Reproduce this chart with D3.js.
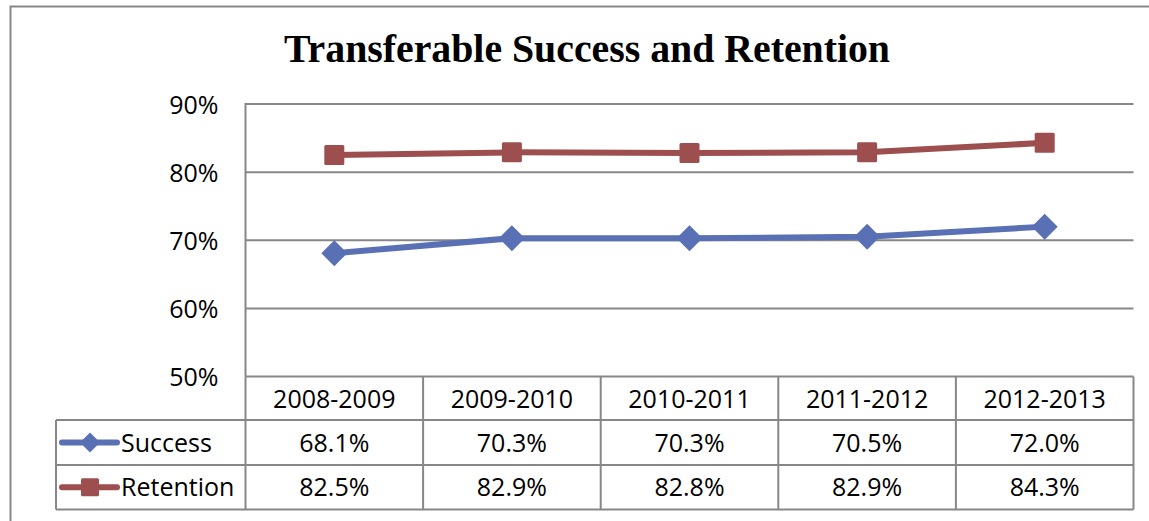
<!DOCTYPE html>
<html>
<head>
<meta charset="utf-8">
<script src="https://cdn.jsdelivr.net/npm/d3@7"></script>
<style>
  body { margin: 0; background: #fff; }
  text { font-family: "Open Sans", sans-serif; fill: #000; }
</style>
</head>
<body>
<div id="chart"></div>
<script>
const years = ["2008-2009", "2009-2010", "2010-2011", "2011-2012", "2012-2013"]
const success = [0.681, 0.703, 0.703, 0.705, 0.720]
const retention = [0.825, 0.829, 0.828, 0.829, 0.843]
const yTicks = [0.5, 0.6, 0.7, 0.8, 0.9]
const seriesNames = ["Success", "Retention"]

const width = 1149
const height = 521
const plot = { left: 245.5, right: 1133.5, top: 104, bottom: 376.5 }
const rowH = [43.5, 45, 44.5]
const legendLeft = 56
const grey = "#878787"
const colours = ["#5a70b5", "#9d4e4e"]

const svg = d3.select("#chart").append("svg").attr("width", width).attr("height", height)

// outer chart border (runs off the window on right and bottom)
svg.append("rect")
    .attr("x", 10.5).attr("y", 6.5)
    .attr("width", 1160).attr("height", 540)
    .attr("fill", "none").attr("stroke", grey).attr("stroke-width", 2)

svg.append("text")
    .attr("x", 587).attr("y", 62)
    .attr("text-anchor", "middle")
    .attr("textLength", 606).attr("lengthAdjust", "spacingAndGlyphs")
    .style("font-family", "'Liberation Serif', serif")
    .style("font-weight", "bold")
    .style("font-size", "40px")
    .text("Transferable Success and Retention")

const x = d3.scaleBand().domain(years).range([plot.left, plot.right]).padding(0)
const y = d3.scaleLinear().domain([0.5, 0.9]).range([plot.bottom, plot.top])

// gridlines
svg.append("g").selectAll("line").data(yTicks).enter().append("line")
    .attr("x1", plot.left).attr("x2", plot.right)
    .attr("y1", d => y(d)).attr("y2", d => y(d))
    .attr("stroke", grey).attr("stroke-width", 2)

const yAxis = d3.axisLeft(y).tickValues(yTicks).tickSize(0).tickPadding(27).tickFormat(d3.format(".0%"))
const yAxisGroup = svg.append("g").attr("transform", `translate(${plot.left}, 0)`).call(yAxis)
yAxisGroup.select(".domain").remove()
yAxisGroup.selectAll("text").style("font-family", "'Open Sans', sans-serif").style("font-size", "25px").attr("dy", "0.36em")

// plot left edge
svg.append("line")
    .attr("x1", plot.left).attr("x2", plot.left)
    .attr("y1", plot.top - 1).attr("y2", plot.bottom)
    .attr("stroke", grey).attr("stroke-width", 2)

// data table
const rowTop = [plot.bottom, plot.bottom + rowH[0], plot.bottom + rowH[0] + rowH[1]]
const tableBottom = rowTop[2] + rowH[2]
const table = svg.append("g")

// horizontal rules
table.append("line").attr("x1", legendLeft).attr("x2", plot.right).attr("y1", rowTop[1]).attr("y2", rowTop[1])
table.append("line").attr("x1", legendLeft).attr("x2", plot.right).attr("y1", rowTop[2]).attr("y2", rowTop[2])
table.append("line").attr("x1", legendLeft).attr("x2", plot.right).attr("y1", tableBottom).attr("y2", tableBottom)
// vertical rules
table.append("line").attr("x1", legendLeft).attr("x2", legendLeft).attr("y1", rowTop[1]).attr("y2", tableBottom)
table.selectAll(".vrule").data(years).enter().append("line")
    .attr("class", "vrule")
    .attr("x1", d => x(d)).attr("x2", d => x(d))
    .attr("y1", plot.bottom).attr("y2", tableBottom)
table.append("line").attr("x1", plot.right).attr("x2", plot.right).attr("y1", plot.bottom).attr("y2", tableBottom)
table.selectAll("line").attr("stroke", grey).attr("stroke-width", 2)

const cellFont = "25px"
table.selectAll(".head").data(years).enter().append("text")
    .attr("x", d => x(d) + x.bandwidth() / 2)
    .attr("y", rowTop[0] + rowH[0] / 2 + 1)
    .attr("dy", "0.36em").attr("text-anchor", "middle")
    .style("font-size", cellFont)
    .text(d => d)

const fmt = d3.format(".1%")
;[success, retention].forEach((vals, r) => {
    table.selectAll(".row" + r).data(vals).enter().append("text")
        .attr("x", (d, i) => x(years[i]) + x.bandwidth() / 2)
        .attr("y", rowTop[r + 1] + rowH[r + 1] / 2)
        .attr("dy", "0.36em").attr("text-anchor", "middle")
        .style("font-size", cellFont)
        .text(d => fmt(d))
})

// markers
const diamond = (g, cx, cy, s) => g.append("path")
    .attr("d", `M${cx},${cy - s}L${cx + s},${cy}L${cx},${cy + s}L${cx - s},${cy}Z`)
    .attr("fill", colours[0])
const square = (g, cx, cy, s) => g.append("rect")
    .attr("x", cx - s).attr("y", cy - s).attr("width", 2 * s).attr("height", 2 * s)
    .attr("rx", 1.5).attr("fill", colours[1])

// legend keys
seriesNames.forEach((name, r) => {
    const cy = rowTop[r + 1] + rowH[r + 1] / 2
    const lg = table.append("g")
    lg.append("line").attr("x1", 62).attr("x2", 117).attr("y1", cy).attr("y2", cy)
        .attr("stroke", colours[r]).attr("stroke-width", 6).attr("stroke-linecap", "round")
    if (r === 0) diamond(lg, 90, cy, 10)
    else square(lg, 90, cy, 9)
    lg.append("text").attr("x", 121).attr("y", cy).attr("dy", "0.36em")
        .style("font-size", cellFont).text(name)
})

// series
const line = d3.line().x((d, i) => x(years[i]) + x.bandwidth() / 2).y(d => y(d))
const lines = svg.append("g")
;[success, retention].forEach((vals, r) => {
    lines.append("path").datum(vals)
        .attr("d", line)
        .attr("fill", "none").attr("stroke", colours[r]).attr("stroke-width", 6)
        .attr("stroke-linejoin", "round")
})
success.forEach((d, i) => diamond(lines, x(years[i]) + x.bandwidth() / 2, y(d), 13))
retention.forEach((d, i) => square(lines, x(years[i]) + x.bandwidth() / 2, y(d), 10))
</script>
</body>
</html>
